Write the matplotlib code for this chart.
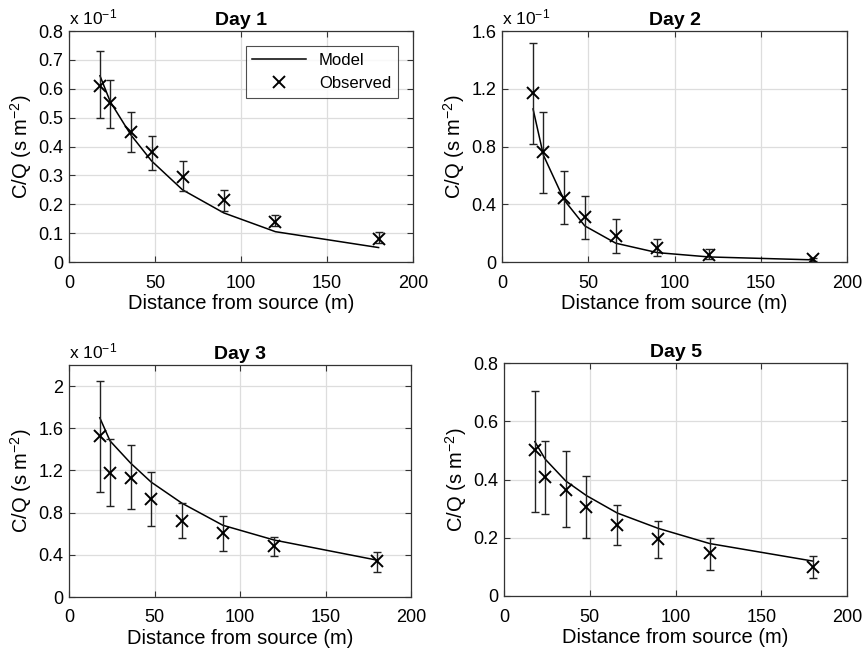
import matplotlib.pyplot as plt
import numpy as np

plt.rcParams['font.family'] = ['Liberation Sans', 'DejaVu Sans']
plt.rcParams['mathtext.fontset'] = 'custom'
plt.rcParams['mathtext.rm'] = 'Liberation Sans'
plt.rcParams['mathtext.it'] = 'Liberation Sans'

dist = [18, 24, 36, 48, 66, 90, 120, 180]

# values shown in units of 1e-1 for days 1-3 (axis multiplier), plain for day 5
day1_obs = [0.61, 0.55, 0.45, 0.38, 0.295, 0.215, 0.14, 0.08]
day1_hi = [0.73, 0.63, 0.52, 0.435, 0.35, 0.25, 0.162, 0.105]
day1_lo = [0.50, 0.465, 0.38, 0.32, 0.245, 0.175, 0.125, 0.065]
day1_model = [0.645, 0.555, 0.44, 0.35, 0.25, 0.17, 0.105, 0.05]

day2_obs = [1.17, 0.76, 0.44, 0.31, 0.18, 0.10, 0.05, 0.02]
day2_hi = [1.52, 1.04, 0.63, 0.46, 0.30, 0.16, 0.09, 0.03]
day2_lo = [0.82, 0.48, 0.26, 0.16, 0.06, 0.04, 0.02, 0.01]
day2_model = [1.06, 0.74, 0.43, 0.25, 0.13, 0.065, 0.035, 0.015]

day3_obs = [1.53, 1.18, 1.13, 0.93, 0.72, 0.61, 0.48, 0.34]
day3_hi = [2.05, 1.50, 1.44, 1.19, 0.89, 0.77, 0.57, 0.43]
day3_lo = [1.00, 0.86, 0.83, 0.67, 0.56, 0.44, 0.39, 0.24]
day3_model = [1.70, 1.48, 1.27, 1.09, 0.89, 0.68, 0.54, 0.35]

day5_obs = [0.50, 0.41, 0.365, 0.305, 0.245, 0.195, 0.148, 0.10]
day5_hi = [0.705, 0.533, 0.497, 0.413, 0.312, 0.257, 0.20, 0.138]
day5_lo = [0.29, 0.28, 0.237, 0.20, 0.175, 0.13, 0.09, 0.063]
day5_model = [0.53, 0.47, 0.395, 0.345, 0.285, 0.232, 0.18, 0.12]

panels = [
    ("Day 1", day1_obs, day1_hi, day1_lo, day1_model, 0.8, np.arange(0, 0.81, 0.1), True),
    ("Day 2", day2_obs, day2_hi, day2_lo, day2_model, 1.6, np.arange(0, 1.61, 0.4), True),
    ("Day 3", day3_obs, day3_hi, day3_lo, day3_model, 2.2, np.arange(0, 2.01, 0.4), True),
    ("Day 5", day5_obs, day5_hi, day5_lo, day5_model, 0.8, np.arange(0, 0.81, 0.2), False),
]

W, H = 866, 658
boxes = [(69, 31, 413, 262), (502, 31, 847, 262), (69, 365, 411, 597), (504, 363, 847, 596)]

fig = plt.figure(figsize=(W / 100, H / 100), dpi=100)

for (title, obs, hi, lo, model, ytop, yticks, mult), (x0, y0, x1, y1) in zip(panels, boxes):
    ax = fig.add_axes([x0 / W, 1 - y1 / H, (x1 - x0) / W, (y1 - y0) / H])
    obs = np.array(obs)
    err = [obs - np.array(lo), np.array(hi) - obs]
    ax.plot(dist, model, color='black', lw=1.1, label='Model')
    ax.errorbar(dist, obs, yerr=err, fmt='none', ecolor='#222222', elinewidth=1.0,
                capsize=3, capthick=1.0)
    ax.plot(dist, obs, 'x', color='black', ms=9, mew=1.4, label='Observed')
    ax.set_xlim(0, 200)
    ax.set_ylim(0, ytop)
    ax.set_xticks([0, 50, 100, 150, 200])
    ax.set_yticks(yticks)
    if ytop == 0.8 and mult:
        ax.set_yticklabels([f"{t:.1f}" if t > 0 else "0" for t in yticks])
    else:
        ax.set_yticklabels([f"{t:g}" if t > 0 else "0" for t in yticks])
    ax.grid(True, color='#dddddd', lw=0.9)
    ax.set_axisbelow(True)
    ax.tick_params(direction='in', top=True, right=True, labelsize=13, length=4,
                   width=0.8, color='#333333', pad=4)
    ax.tick_params(axis='x', pad=9)
    for s in ax.spines.values():
        s.set_color('#333333')
        s.set_linewidth(0.9)
    ax.set_title(title, fontsize=14, fontweight='bold', pad=4)
    ax.set_xlabel("Distance from source (m)", fontsize=14.5, labelpad=2)
    ax.set_ylabel("C/Q (s m$^{-2}$)", fontsize=14.5, labelpad=3)
    if mult:
        ax.text(0.0, 1.015, "x 10$^{-1}$", transform=ax.transAxes, fontsize=12.5,
                ha='left', va='bottom')
    if title == "Day 1":
        leg = ax.legend(loc='upper right', fontsize=12, frameon=True, fancybox=False,
                        edgecolor='#222222', handlelength=3.2, borderaxespad=0.9)
        leg.get_frame().set_linewidth(0.8)

fig.savefig("out.png", dpi=100)
